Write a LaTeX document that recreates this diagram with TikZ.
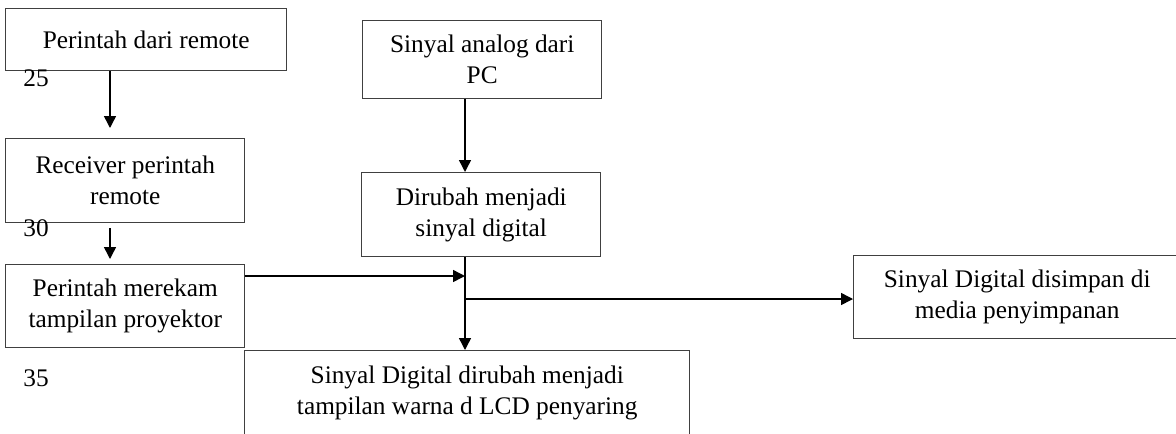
\documentclass[tikz,border=0pt]{standalone}
\usepackage{fontspec}
\setmainfont{Liberation Serif}
\usetikzlibrary{arrows.meta}

\begin{document}
\begin{tikzpicture}[x=0.75pt,y=-0.75pt,->,>={Triangle[length=9pt,width=9pt]},line width=1.1pt,
        main node/.style={rectangle,draw=black!75,anchor=north west,align=center,inner sep=0pt,
                          font=\fontsize{19}{23.25}\selectfont},
        num node/.style={font=\fontsize{19}{23.25}\selectfont}]

        \useasboundingbox (0,0) rectangle (1176,433);
        \clip (0,0) rectangle (1176,433);

        \node[main node,minimum width=210.75pt,minimum height=46.5pt] (remote) at (5,8) {Perintah dari remote};
        \node[main node,minimum width=179.25pt,minimum height=63pt] (receiver) at (5,138) {Receiver perintah\\remote};
        \node[main node,minimum width=179.25pt,minimum height=62.25pt] (rekam) at (5,264) {Perintah merekam\\tampilan proyektor};

        \node[main node,minimum width=179.25pt,minimum height=58.5pt] (analog) at (362,19.5) {Sinyal analog dari\\PC};
        \node[main node,minimum width=179.25pt,minimum height=63pt] (digital) at (361,172) {Dirubah menjadi\\sinyal digital};
        \node[main node,minimum width=333.75pt,minimum height=63pt] (lcd) at (244,350) {Sinyal Digital dirubah menjadi\\tampilan warna d LCD penyaring};
        \node[main node,minimum width=245.25pt,minimum height=62.25pt] (simpan) at (853,255) {Sinyal Digital disimpan di\\media penyimpanan};

        \node[num node] (n25) at (36,78) {25};
        \node[num node] (n30) at (36,228) {30};
        \node[num node] (n35) at (36,378) {35};

        \coordinate (tipA) at (110,128);
        \coordinate (startB) at (110,228);
        \coordinate (tipB) at (110,259);
        \coordinate (join) at (465,276);
        \coordinate (branch) at (465,299);

        \path [->] (remote.south -| tipA) edge (tipA);
        \path [->] (startB) edge (tipB);
        \path [->] (analog.south -| join) edge (digital.north -| join);
        \path [->] (rekam.east |- join) edge (join);
        \path [->] (digital.south -| join) edge (lcd.north -| join);
        \path [->] (branch) edge (simpan.west |- branch);
    \end{tikzpicture}
\end{document}
